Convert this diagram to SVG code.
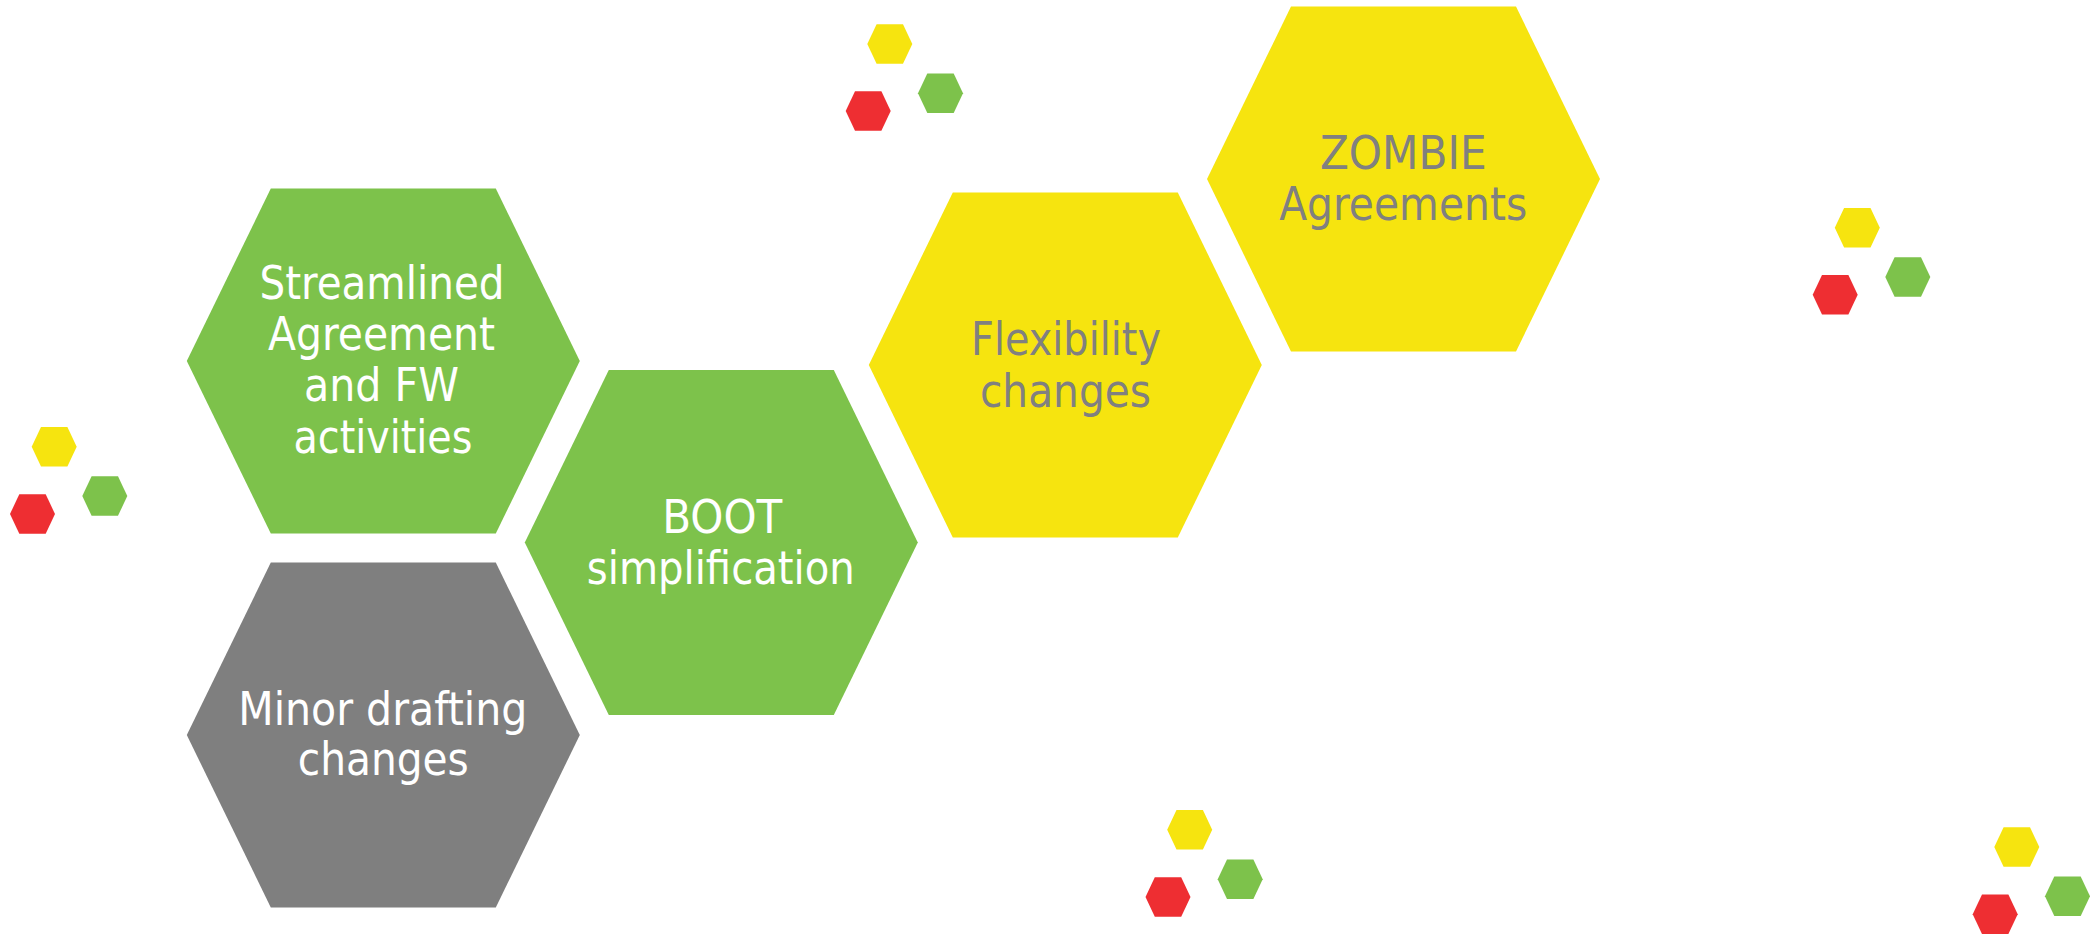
<svg xmlns="http://www.w3.org/2000/svg" xmlns:xlink="http://www.w3.org/1999/xlink" width="2090" height="936" viewBox="0 0 2090 936">
  <style>
    .green { fill: #7DC24B; }
    .yellow { fill: #F6E40F; }
    .gray { fill: #7F7F7F; }
    .red { fill: #EE2E32; }
    .lbl { font-family: "DejaVu Sans Condensed", "DejaVu Sans", "Liberation Sans", sans-serif; font-stretch: condensed; font-size: 46px; text-anchor: middle; }
    .lw { fill: #FFFFFF; }
    .lg { fill: #808080; }
  </style>
  <defs>
    <polygon id="bighex" points="-196.5,0 -112.5,-172.5 112.5,-172.5 196.5,0 112.5,172.5 -112.5,172.5"/>
    <polygon id="smallhex" points="-22.5,0 -13.2,-19.8 13.2,-19.8 22.5,0 13.2,19.8 -13.2,19.8"/>
  </defs>
  <rect width="2090" height="936" fill="#FFFFFF"/>

  <g id="connectors"></g>

  <g id="deco-left">
    <use xlink:href="#smallhex" class="yellow" transform="translate(54.2,446.7)"/>
    <use xlink:href="#smallhex" class="green" transform="translate(104.8,496)"/>
    <use xlink:href="#smallhex" class="red" transform="translate(32.5,514)"/>
  </g>
  <g id="deco-top">
    <use xlink:href="#smallhex" class="yellow" transform="translate(889.8,44)"/>
    <use xlink:href="#smallhex" class="green" transform="translate(940.5,93.3)"/>
    <use xlink:href="#smallhex" class="red" transform="translate(868.2,111)"/>
  </g>
  <g id="deco-right">
    <use xlink:href="#smallhex" class="yellow" transform="translate(1857.3,227.8)"/>
    <use xlink:href="#smallhex" class="green" transform="translate(1907.8,277)"/>
    <use xlink:href="#smallhex" class="red" transform="translate(1835.2,294.8)"/>
  </g>
  <g id="deco-bottom">
    <use xlink:href="#smallhex" class="yellow" transform="translate(1189.7,829.8)"/>
    <use xlink:href="#smallhex" class="green" transform="translate(1240.2,879.3)"/>
    <use xlink:href="#smallhex" class="red" transform="translate(1168,897)"/>
  </g>
  <g id="deco-bottom-right">
    <use xlink:href="#smallhex" class="yellow" transform="translate(2016.8,847)"/>
    <use xlink:href="#smallhex" class="green" transform="translate(2067.5,896.3)"/>
    <use xlink:href="#smallhex" class="red" transform="translate(1995.2,914.2)"/>
  </g>

  <g id="streamlined">
    <use xlink:href="#bighex" class="green" transform="translate(383.3,361)"/>
    <text class="lbl lw" x="382" y="299.3" textLength="245" lengthAdjust="spacingAndGlyphs">Streamlined</text>
    <text class="lbl lw" x="381.5" y="350" textLength="227" lengthAdjust="spacingAndGlyphs">Agreement</text>
    <text class="lbl lw" x="381.5" y="401" textLength="155" lengthAdjust="spacingAndGlyphs">and FW</text>
    <text class="lbl lw" x="383" y="452.7" textLength="179" lengthAdjust="spacingAndGlyphs">activities</text>
  </g>

  <g id="minor">
    <use xlink:href="#bighex" class="gray" transform="translate(383.3,735)"/>
    <text class="lbl lw" x="382.8" y="725" textLength="289" lengthAdjust="spacingAndGlyphs">Minor drafting</text>
    <text class="lbl lw" x="383.3" y="775.3" textLength="171" lengthAdjust="spacingAndGlyphs">changes</text>
  </g>

  <g id="boot">
    <use xlink:href="#bighex" class="green" transform="translate(721.3,542.5)"/>
    <text class="lbl lw" x="722.3" y="532.7" textLength="120" lengthAdjust="spacingAndGlyphs">BOOT</text>
    <text class="lbl lw" x="720.8" y="584" textLength="268" lengthAdjust="spacingAndGlyphs">simplification</text>
  </g>

  <g id="flexibility">
    <use xlink:href="#bighex" class="yellow" transform="translate(1065.3,365)"/>
    <text class="lbl lg" x="1066" y="355" textLength="190" lengthAdjust="spacingAndGlyphs">Flexibility</text>
    <text class="lbl lg" x="1065.5" y="406.7" textLength="171" lengthAdjust="spacingAndGlyphs">changes</text>
  </g>

  <g id="zombie">
    <use xlink:href="#bighex" class="yellow" transform="translate(1403.5,179)"/>
    <text class="lbl lg" x="1403.3" y="169.3" textLength="166.7" lengthAdjust="spacingAndGlyphs">ZOMBIE</text>
    <text class="lbl lg" x="1403.2" y="220" textLength="248" lengthAdjust="spacingAndGlyphs">Agreements</text>
  </g>
</svg>
